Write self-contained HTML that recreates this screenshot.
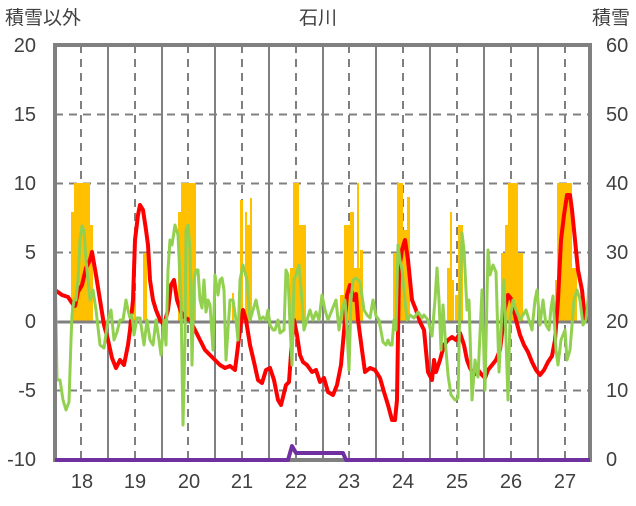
<!DOCTYPE html>
<html><head><meta charset="utf-8"><style>
html,body{margin:0;padding:0;background:#fff}
svg text{font-family:"Liberation Sans","Noto Sans CJK JP",sans-serif;fill:#404040}
</style></head><body>
<svg width="636" height="501" viewBox="0 0 636 501" xmlns="http://www.w3.org/2000/svg">
<rect width="636" height="501" fill="#fff"/>
<!-- horizontal dashed grid -->
<g stroke="#808080" stroke-width="2" stroke-dasharray="8,6">
<line x1="55" y1="252.5" x2="590" y2="252.5"/>
<line x1="55" y1="183.5" x2="590" y2="183.5"/>
<line x1="55" y1="114.5" x2="590" y2="114.5"/>
<line x1="55" y1="390.5" x2="590" y2="390.5"/>
</g>
<!-- vertical dashed -->
<g stroke="#808080" stroke-width="2" stroke-dasharray="8,6">
<line x1="81" y1="45" x2="81" y2="460"/><line x1="135" y1="45" x2="135" y2="460"/>
<line x1="188" y1="45" x2="188" y2="460"/><line x1="242" y1="45" x2="242" y2="460"/>
<line x1="296" y1="45" x2="296" y2="460"/><line x1="349" y1="45" x2="349" y2="460"/>
<line x1="403" y1="45" x2="403" y2="460"/><line x1="457" y1="45" x2="457" y2="460"/>
<line x1="511" y1="45" x2="511" y2="460"/><line x1="565" y1="45" x2="565" y2="460"/>
</g>
<!-- vertical solid -->
<g stroke="#808080" stroke-width="2">
<line x1="108" y1="45" x2="108" y2="460"/><line x1="162" y1="45" x2="162" y2="460"/>
<line x1="215" y1="45" x2="215" y2="460"/><line x1="269" y1="45" x2="269" y2="460"/>
<line x1="323" y1="45" x2="323" y2="460"/><line x1="376" y1="45" x2="376" y2="460"/>
<line x1="430" y1="45" x2="430" y2="460"/><line x1="484" y1="45" x2="484" y2="460"/>
<line x1="538" y1="45" x2="538" y2="460"/>
</g>
<!-- bars -->
<g fill="#FFC000">
<rect x="71" y="212" width="3" height="110"/><rect x="74" y="183" width="16" height="139"/><rect x="90" y="225" width="3" height="97"/>
<rect x="134" y="293" width="2" height="29"/><rect x="143" y="253" width="4" height="69"/>
<rect x="178" y="212" width="4" height="110"/><rect x="181" y="183" width="15" height="139"/>
<rect x="232" y="293" width="2" height="29"/><rect x="240" y="200" width="3" height="122"/><rect x="245" y="212" width="2" height="110"/><rect x="247" y="225" width="5" height="97"/><rect x="250" y="198" width="2" height="124"/>
<rect x="290" y="268" width="3" height="54"/><rect x="293" y="183" width="6" height="139"/><rect x="299" y="225" width="7" height="97"/>
<rect x="340" y="295" width="4" height="27"/><rect x="344" y="225" width="6" height="97"/><rect x="350" y="212" width="4" height="110"/><rect x="354" y="268" width="6" height="54"/><rect x="357" y="183" width="2" height="139"/><rect x="360" y="250" width="3" height="72"/>
<rect x="393" y="253" width="4" height="69"/><rect x="397" y="183" width="6" height="139"/><rect x="403" y="230" width="4" height="92"/><rect x="407" y="197" width="3" height="125"/>
<rect x="447" y="268" width="3" height="54"/><rect x="450" y="212" width="2" height="110"/><rect x="452" y="280" width="2" height="42"/><rect x="455" y="295" width="3" height="27"/><rect x="458" y="225" width="5" height="97"/>
<rect x="501" y="253" width="4" height="69"/><rect x="505" y="225" width="3" height="97"/><rect x="508" y="183" width="10" height="139"/><rect x="518" y="253" width="5" height="69"/>
<rect x="555" y="280" width="2" height="42"/><rect x="557" y="183" width="15" height="139"/><rect x="572" y="268" width="5" height="54"/>
</g>
<!-- zero line -->
<line x1="55" y1="322" x2="590" y2="322" stroke="#808080" stroke-width="3"/>
<!-- red -->
<polyline fill="none" stroke="#FF0000" stroke-width="4" stroke-linejoin="round" points="55,290 62,295 68,297 72,303 75,306 78,292 82,285 86,268 90,260 92,252 96,275 100,300 104,325 108,340 112,358 116,368 120,360 124,365 128,345 130,330 133,300 135,240 138,215 140,205 143,210 146,230 148,245 150,280 153,300 156,310 160,320 164,325 168,310 171,285 174,280 177,300 181,312 185,318 190,320 195,330 200,340 205,350 210,355 215,360 220,365 225,368 230,366 235,370 240,330 243,310 246,320 250,345 254,362 258,380 262,383 266,370 270,368 274,380 278,400 281,405 286,385 289,382 292,340 294,320 297,335 300,355 303,362 307,365 312,372 316,370 320,382 324,378 328,392 333,395 337,385 341,365 345,320 347,295 350,285 354,300 356,294 358,320 362,350 365,372 370,368 375,370 380,378 384,392 388,405 392,420 395,420 397,400 399,270 402,250 405,240 408,260 412,300 416,310 420,322 424,330 428,372 432,380 434,360 436,372 440,360 444,345 448,340 452,337 456,340 460,333 464,345 467,360 470,368 474,375 478,370 482,375 485,378 488,370 492,365 496,360 500,350 505,308 508,295 512,300 516,320 520,335 524,345 528,352 532,362 536,370 540,375 544,370 548,362 552,356 555,340 558,300 561,240 564,215 567,195 570,195 572,210 575,240 578,270 582,290 585,320 588,320 590,310"/>
<!-- green -->
<polyline fill="none" stroke="#92D050" stroke-width="3" stroke-linejoin="round" points="55,258 57,380 60,380 63,400 66,410 69,402 71,340 72,315 74,300 76,300 78,280 80,240 82,226 84,230 86,260 88,280 90,300 93,290 96,310 100,345 104,348 108,320 111,310 114,340 117,332 120,320 123,320 126,300 128,310 130,318 132,315 134,335 137,318 140,318 144,345 147,320 150,340 153,345 156,320 159,340 161,355 164,320 166,345 168,270 170,240 172,245 175,225 178,235 181,300 183,425 185,340 186,230 188,225 190,250 192,365 194,280 196,270 198,270 200,300 202,308 204,280 206,312 208,300 210,305 213,350 215,275 218,295 220,280 222,278 224,290 226,360 228,330 230,300 233,300 236,320 238,340 240,280 243,265 247,280 250,320 253,310 256,300 260,320 263,317 266,320 268,310 270,325 273,330 275,330 278,320 280,333 284,330 286,270 288,275 290,325 292,365 294,280 296,275 299,265 302,300 304,330 307,320 310,310 313,320 316,312 319,320 322,295 325,310 328,320 332,310 336,300 339,330 342,310 345,300 347,330 349,370 351,300 353,280 356,278 360,282 364,310 367,315 370,318 373,300 376,316 379,320 383,342 386,345 388,340 390,345 392,345 394,320 396,330 398,245 400,260 402,270 405,300 407,320 410,315 414,318 418,312 422,318 424,315 428,320 432,336 435,300 437,268 439,300 441,350 443,305 446,350 448,375 451,395 455,400 458,398 460,300 462,233 464,250 467,310 469,300 472,400 475,360 478,377 482,290 485,390 488,250 490,275 493,265 496,272 499,372 502,310 504,280 508,400 510,320 513,300 516,310 520,320 523,315 526,310 529,320 532,330 535,300 537,290 540,325 543,300 546,325 549,330 551,308 553,296 556,350 558,365 561,340 565,330 567,360 570,350 574,300 577,290 580,300 583,325 586,320 588,300 590,265"/>
<!-- frame -->
<rect x="55" y="45" width="535" height="415" fill="none" stroke="#808080" stroke-width="4"/>
<!-- top ticks -->
<g stroke="#808080" stroke-width="2">
<line x1="81" y1="45" x2="81" y2="50"/><line x1="135" y1="45" x2="135" y2="50"/><line x1="188" y1="45" x2="188" y2="50"/><line x1="242" y1="45" x2="242" y2="50"/><line x1="296" y1="45" x2="296" y2="50"/><line x1="349" y1="45" x2="349" y2="50"/><line x1="403" y1="45" x2="403" y2="50"/><line x1="457" y1="45" x2="457" y2="50"/><line x1="511" y1="45" x2="511" y2="50"/><line x1="565" y1="45" x2="565" y2="50"/>
</g>
<!-- purple -->
<polyline fill="none" stroke="#7030A0" stroke-width="4" stroke-linejoin="round" points="55,460 288,460 292,446 296,453 343,453 346,460 590,460"/>
<!-- labels -->
<g font-size="19">
<text x="5" y="24">積雪以外</text>
<text x="318" y="24" text-anchor="middle">石川</text>
<text x="630" y="24" text-anchor="end">積雪</text>
</g>
<g font-size="20" text-anchor="end">
<text x="36" y="52">20</text><text x="36" y="121">15</text><text x="36" y="190">10</text><text x="36" y="259">5</text><text x="36" y="328">0</text><text x="36" y="397">-5</text><text x="36" y="466">-10</text>
</g>
<g font-size="20" text-anchor="start">
<text x="606" y="52">60</text><text x="606" y="121">50</text><text x="606" y="190">40</text><text x="606" y="259">30</text><text x="606" y="328">20</text><text x="606" y="397">10</text><text x="606" y="466">0</text>
</g>
<g font-size="20" text-anchor="middle">
<text x="82" y="488">18</text><text x="135" y="488">19</text><text x="189" y="488">20</text><text x="242" y="488">21</text><text x="296" y="488">22</text><text x="349" y="488">23</text><text x="403" y="488">24</text><text x="457" y="488">25</text><text x="511" y="488">26</text><text x="565" y="488">27</text>
</g>
</svg>
</body></html>
